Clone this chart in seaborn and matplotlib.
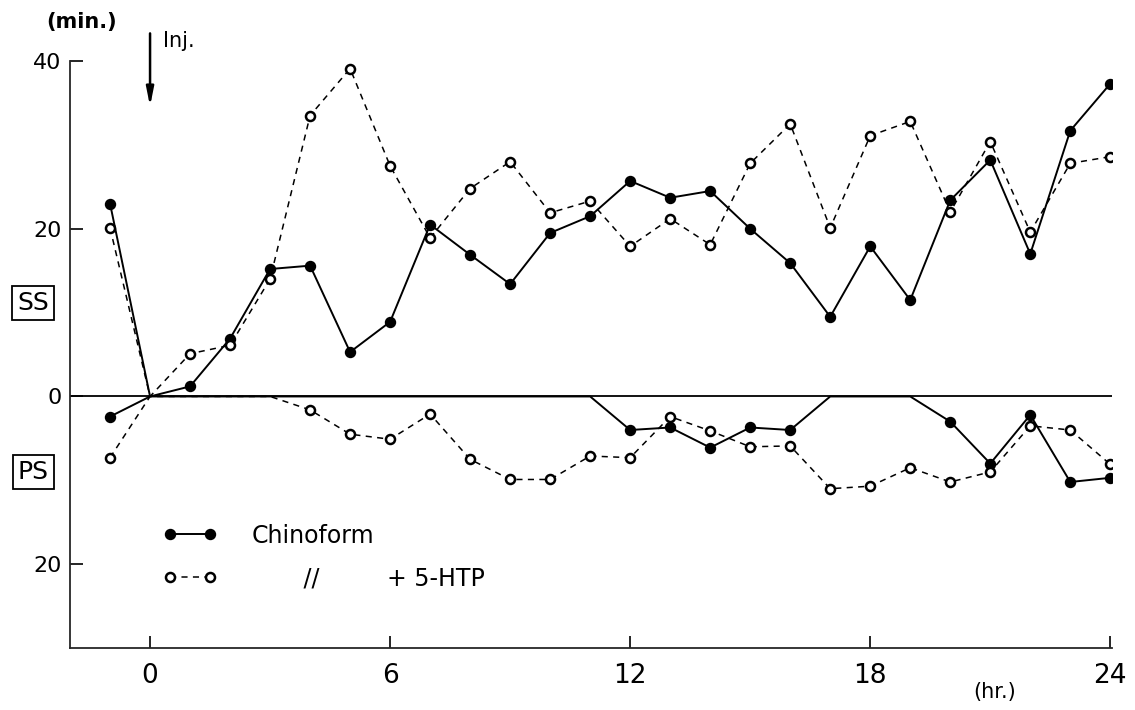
import numpy as np
import pandas as pd
import matplotlib
matplotlib.use("Agg")
import matplotlib.pyplot as plt
from matplotlib.lines import Line2D
import matplotlib.transforms as mtransforms
import seaborn as sns

# ── Data (minutes of sleep per hour, hours relative to injection) ─────────────
hours = list(range(-1, 25))

ss_chinoform = [23.0, 0.0, 1.2, 6.9, 15.2, 15.6, 5.3, 8.9, 20.5, 16.9, 13.4,
                19.5, 21.5, 25.7, 23.7, 24.5, 20.0, 15.9, 9.5, 17.9, 11.5,
                23.4, 28.2, 17.0, 31.7, 37.3]
ss_htp = [20.1, 0.0, 5.1, 6.1, 14.0, 33.5, 39.1, 27.5, 18.9, 24.8, 28.0,
          21.9, 23.3, 17.9, 21.2, 18.1, 27.8, 32.5, 20.1, 31.1, 32.8,
          22.0, 30.4, 19.6, 27.8, 28.6]
# paradoxical sleep is drawn below the zero line
ps_chinoform = [2.4, 0, 0, 0, 0, 0, 0, 0, 0, 0, 0,
                0, 0, 4.0, 3.7, 6.1, 3.7, 4.0, 0, 0, 0,
                3.0, 8.0, 2.2, 10.2, 9.7]
ps_htp = [7.3, 0, 0, 0, 0, 1.6, 4.5, 5.1, 2.1, 7.5, 9.9,
          9.9, 7.1, 7.3, 2.4, 4.1, 6.0, 5.9, 11.0, 10.7, 8.5,
          10.2, 9.0, 3.5, 4.0, 8.1]

x_ticks = [0, 6, 12, 18, 24]
y_ticks = [40, 20, 0, -20]
y_tick_labels = ["40", "20", "0", "20"]

series = {
    "ss_chin": (ss_chinoform, "solid"),
    "ss_htp": (ss_htp, "dashed"),
    "ps_chin": ([-v for v in ps_chinoform], "solid"),
    "ps_htp": ([-v for v in ps_htp], "dashed"),
}

sns.set_style("ticks")
plt.rcParams["font.family"] = ["DejaVu Sans"]
plt.rcParams["text.color"] = "black"

fig = plt.figure(figsize=(11.35, 7.10), dpi=100)
ax = fig.add_axes([0.0617, 0.0873, 0.9183, 0.8267])

DASH = (0, (4, 3.5))
for key, (vals, style) in series.items():
    df = pd.DataFrame({"hr": hours, "min": vals})
    marks = [i for i, v in enumerate(vals) if v != 0]
    filled = style == "solid"
    sns.lineplot(data=df, x="hr", y="min", ax=ax, color="black",
                 linewidth=1.4 if filled else 1.1,
                 linestyle="-" if filled else DASH,
                 marker="o", markevery=marks,
                 markersize=7.2 if filled else 6.5,
                 markerfacecolor="black" if filled else "white",
                 markeredgecolor="black",
                 markeredgewidth=1.0 if filled else 1.8,
                 zorder=3)

ax.axhline(0, color="black", linewidth=1.3, zorder=2)

ax.set_xlim(-2, 24.05)
ax.set_ylim(-30, 40)
ax.set_xticks(x_ticks)
ax.set_yticks(y_ticks)
ax.set_yticklabels(y_tick_labels)
ax.set_xlabel("")
ax.set_ylabel("")
ax.tick_params(axis="both", direction="in", length=9, width=1.2,
               colors="black")
ax.tick_params(axis="x", pad=11, labelsize=19)
ax.tick_params(axis="y", pad=6, labelsize=16)
sns.despine(ax=ax, top=True, right=True)
for sp in ["left", "bottom"]:
    ax.spines[sp].set_linewidth(1.3)
ax.spines["left"].set_bounds(-30, 40)

# ── Annotations ───────────────────────────────────────────────────────────────
ax.text(-2.6, 44.6, "(min.)", fontsize=15, fontweight="bold",
        ha="left", va="center", clip_on=False)
ax.annotate("", xy=(0, 34.6), xytext=(0, 43.3), annotation_clip=False,
            arrowprops=dict(arrowstyle="-|>,head_width=0.22,head_length=1.1",
                            color="black", linewidth=1.8,
                            shrinkA=0, shrinkB=0))
ax.text(0.32, 42.4, "Inj.", fontsize=15, ha="left", va="center",
        clip_on=False)

box = dict(boxstyle="square,pad=0.2", facecolor="white",
           edgecolor="black", linewidth=1.3)
ax.text(-2.925, 11.1, "SS", fontsize=18, ha="center", va="center",
        bbox=box, clip_on=False)
ax.text(-2.925, -9.0, "PS", fontsize=18, ha="center", va="center",
        bbox=box, clip_on=False)

trans = mtransforms.blended_transform_factory(ax.transData, ax.transAxes)
ax.text(21.1, -0.075, "(hr.)", fontsize=15, ha="center", va="center",
        transform=trans, clip_on=False)

# ── Legend ────────────────────────────────────────────────────────────────────
handles = [
    Line2D([], [], color="black", linewidth=1.4, marker="o",
           markersize=7.2, markerfacecolor="black", markeredgecolor="black"),
    Line2D([], [], color="black", linewidth=1.1, linestyle=DASH, marker="o",
           markersize=6.5, markerfacecolor="white", markeredgecolor="black",
           markeredgewidth=1.8),
]
ax.legend(handles, ["Chinoform", "       //         + 5-HTP"],
          loc="upper left", bbox_to_anchor=(0.080, 0.228),
          frameon=False, fontsize=17, numpoints=2, handlelength=2.3,
          handletextpad=1.45, labelspacing=0.8, borderaxespad=0)

fig.savefig("out.png", dpi=100)
